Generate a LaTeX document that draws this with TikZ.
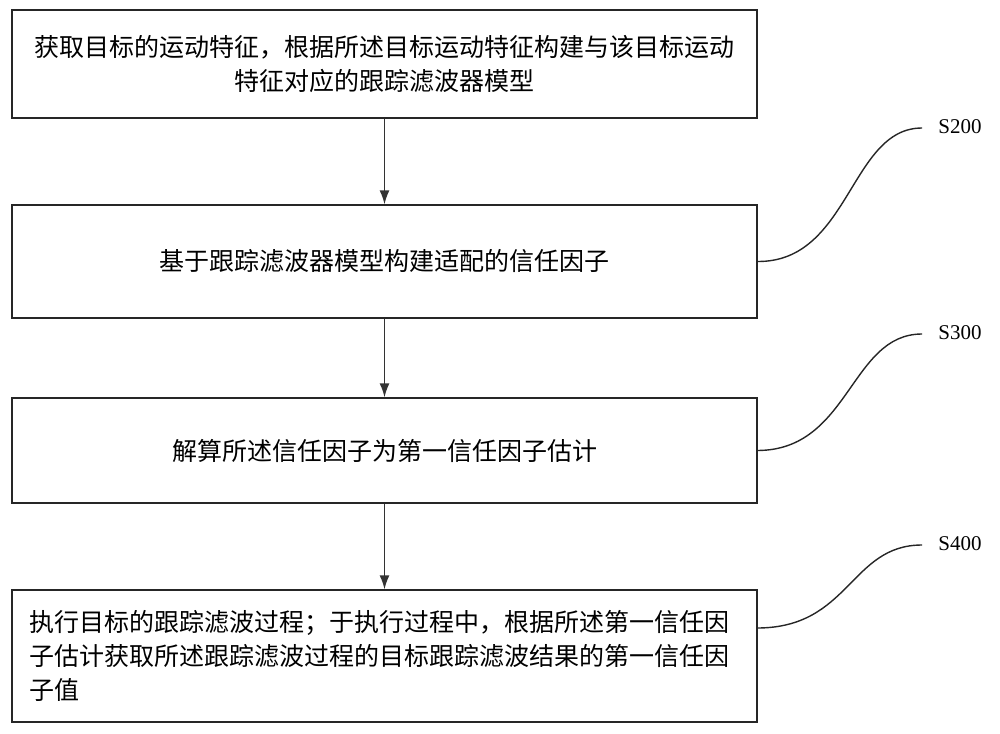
\documentclass[tikz,border=0pt]{standalone}
\usepackage{fontspec}
\usetikzlibrary{arrows.meta}
\setmainfont{Liberation Serif}
\newfontfamily\cjk{Noto Sans CJK SC}
\begin{document}
\begin{tikzpicture}[x=1pt,y=-1pt,
  box/.style={draw=black!85,line width=1.4pt,minimum width=745pt,inner sep=0pt},
  txt/.style={font=\cjk\fontsize{25}{34}\selectfont,text width=720pt},
  arr/.style={draw=black!80,line width=1.4pt,-{Latex[length=14pt,width=10pt]}},
  lab/.style={font=\fontsize{21}{24}\selectfont},
  cur/.style={draw=black!85,line width=1.4pt}]
\useasboundingbox (0,0) rectangle (1000,733);
\node[box,minimum height=108pt] (b1) at (384.5,64) {};
\node[box,minimum height=113pt] (b2) at (384.5,261.5) {};
\node[box,minimum height=105pt] (b3) at (384.5,450.5) {};
\node[box,minimum height=132pt] (b4) at (384.5,656) {};
\node[txt,align=center] (t1) at (b1) {获取目标的运动特征，根据所述目标运动特征构建与该目标运动\\特征对应的跟踪滤波器模型};
\node[txt,align=center] (t2) at (b2) {基于跟踪滤波器模型构建适配的信任因子};
\node[txt,align=center] (t3) at (b3) {解算所述信任因子为第一信任因子估计};
\node[txt,align=left] (t4) at (389,656) {执行目标的跟踪滤波过程；于执行过程中，根据所述第一信任因\\子估计获取所述跟踪滤波过程的目标跟踪滤波结果的第一信任因\\子值};
\draw[arr] (b1.south) -- (b2.north);
\draw[arr] (b2.south) -- (b3.north);
\draw[arr] (b3.south) -- (b4.north);
\node[lab] (s2) at (960,127) {S200};
\node[lab] (s3) at (960,333) {S300};
\node[lab] (s4) at (960,544) {S400};
\coordinate (c2) at (922,128);
\coordinate (c3) at (922,334);
\coordinate (c4) at (922,545);
\draw[cur] (b2.east) .. controls (850,262) and (850,128) .. (c2);
\draw[cur] (b3.east) .. controls (850,450) and (850,334) .. (c3);
\draw[cur] (757,628) .. controls (850,628) and (850,545) .. (c4);
\end{tikzpicture}
\end{document}
